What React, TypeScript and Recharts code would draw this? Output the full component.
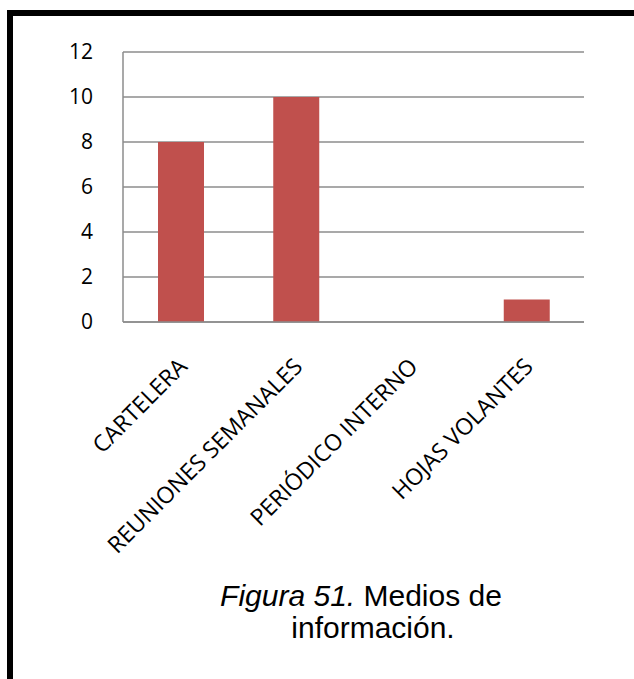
import React from 'react';
import { BarChart, Bar, XAxis, YAxis, CartesianGrid } from 'recharts';

const categories = ['CARTELERA', 'REUNIONES SEMANALES', 'PERIÓDICO INTERNO', 'HOJAS VOLANTES'];
const counts = [8, 10, 0, 1];
const yTicks = [0, 2, 4, 6, 8, 10, 12];

const data = categories.map((name, i) => ({ name, value: counts[i] }));

const labelFont = '"Open Sans", "DejaVu Sans", sans-serif';

// rotated category label, anchored at its end just right of the category center
const CategoryTick = (props: any) => {
  const { x, y, payload } = props;
  const tx = x + 8;
  const ty = y + 38;
  return (
    <text
      x={tx}
      y={ty}
      transform={`rotate(-45, ${tx}, ${ty})`}
      textAnchor="end"
      fontSize={23}
      fontFamily={labelFont}
      fill="#000"
    >
      {payload.value}
    </text>
  );
};

export default function App() {
  return (
    <div
      style={{
        position: 'absolute',
        left: 0,
        top: 0,
        width: 634,
        height: 679,
        background: '#fff',
        overflow: 'hidden',
      }}
    >
      {/* frame around the figure */}
      <div
        style={{
          position: 'absolute',
          left: 7,
          top: 10,
          width: 700,
          height: 740,
          borderLeft: '6px solid #000',
          borderTop: '6px solid #000',
        }}
      />
      <div style={{ position: 'absolute', left: 0, top: 0 }}>
        <BarChart
          width={634}
          height={560}
          data={data}
          margin={{ top: 52, right: 50, bottom: 38, left: 0 }}
          barCategoryGap="30%"
        >
          <CartesianGrid vertical={false} stroke="#8c8c8c" strokeWidth={1.5} />
          <XAxis
            dataKey="name"
            interval={0}
            height={200}
            tickLine={false}
            axisLine={{ stroke: '#8c8c8c', strokeWidth: 1.5 }}
            tick={<CategoryTick />}
          />
          <YAxis
            width={123}
            domain={[0, 12]}
            ticks={yTicks}
            interval={0}
            tickLine={false}
            tickSize={28}
            tickMargin={2}
            axisLine={{ stroke: '#8c8c8c', strokeWidth: 1.5 }}
            tick={{ fontSize: 21, fontFamily: labelFont, fill: '#000' }}
          />
          <Bar dataKey="value" fill="#C0504D" barSize={46} isAnimationActive={false} />
        </BarChart>
      </div>
      {/* caption */}
      <div
        style={{
          position: 'absolute',
          left: 0,
          top: 580,
          width: 634,
          fontFamily: '"Liberation Sans", Arial, sans-serif',
          fontSize: 30,
          lineHeight: '32px',
          color: '#000',
        }}
      >
        <div style={{ position: 'absolute', left: 361, transform: 'translateX(-50%)', whiteSpace: 'nowrap' }}>
          <i>Figura 51.</i> Medios de
        </div>
        <div
          style={{ position: 'absolute', left: 373, top: 32, transform: 'translateX(-50%)', whiteSpace: 'nowrap' }}
        >
          información.
        </div>
      </div>
    </div>
  );
}
